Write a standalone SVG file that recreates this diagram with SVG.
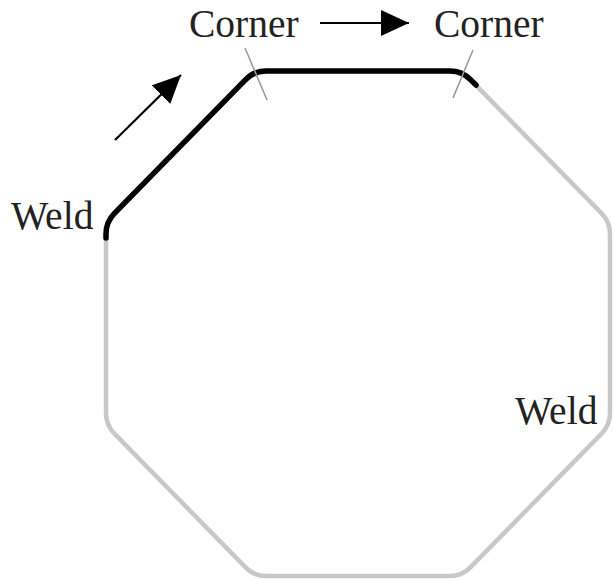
<svg xmlns="http://www.w3.org/2000/svg" width="613" height="580" viewBox="0 0 613 580">
  <style>
    .lbl { font-family: "Liberation Serif", "Times New Roman", serif; font-size: 39.5px; fill: #222; }
    .tube { fill: none; stroke: #c8c8c8; stroke-width: 4.5; stroke-linejoin: round; }
    .weld { fill: none; stroke: #000; stroke-width: 5.5; stroke-linecap: round; stroke-linejoin: round; }
    .tick { stroke: #9a9a9a; stroke-width: 1.6; }
    .arr { stroke: #000; stroke-width: 2.2; fill: none; }
  </style>
  <defs>
    <marker id="head" markerUnits="userSpaceOnUse" markerWidth="30" markerHeight="28" refX="28" refY="13" orient="auto" viewBox="0 0 30 28">
      <path d="M0,0 L28,13 L0,26 Z" fill="#000"/>
    </marker>
  </defs>
  <rect width="613" height="580" fill="#fff"/>
  <g id="octagon">
    <path class="tube" d="M106,300 L106,234 Q106,222 114.4,213.4 L245.6,79.6 Q254,71 266,71 L450,71 Q462,71 470.4,79.6 L601.6,213.4 Q610,222 610,234 L610,413 Q610,425 601.6,433.6 L470.4,567.4 Q462,576 450,576 L266,576 Q254,576 245.6,567.4 L114.4,433.6 Q106,425 106,413 Z"/>
  </g>
  <g id="weld-path">
    <path class="weld" d="M106,238 L106,234 Q106,222 114.4,213.4 L245.6,79.6 Q254,71 266,71 L450,71 Q462,71 470.4,79.6 L476,85"/>
  </g>
  <g id="corner-ticks">
    <line class="tick" x1="245" y1="48" x2="267" y2="100"/>
    <line class="tick" x1="473" y1="50" x2="453" y2="98"/>
  </g>
  <g id="connectors">
    <line class="arr" x1="320" y1="23" x2="409" y2="23" marker-end="url(#head)"/>
    <line class="arr" x1="115" y1="140" x2="181" y2="75" marker-end="url(#head)"/>
  </g>
  <g id="labels">
    <text id="corner-left" class="lbl" x="189" y="37">Corner</text>
    <text id="corner-right" class="lbl" x="434" y="37">Corner</text>
    <text id="weld-left" class="lbl" x="11" y="229">Weld</text>
    <text id="weld-right" class="lbl" x="515" y="424">Weld</text>
  </g>
</svg>
